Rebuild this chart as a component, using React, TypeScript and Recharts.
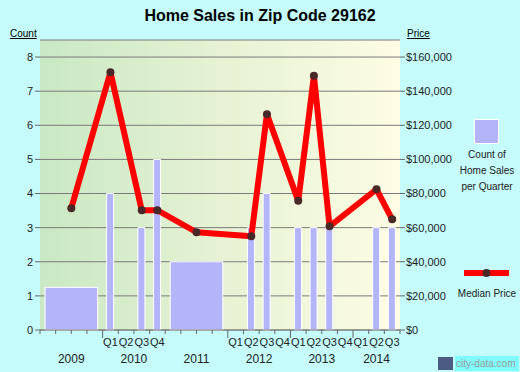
import { ComposedChart, Bar, Line, XAxis, YAxis, CartesianGrid, ReferenceArea } from "recharts";

// years on the x axis, and whether each one is broken into quarters
const yearLabels = ["2009", "2010", "2011", "2012", "2013", "2014"];
const yearQuarters = [4, 4, 4, 4, 4, 3];
const yearSplit = [false, true, false, true, true, true];

// one entry per bar / line point (a whole year or a single quarter)
const periodSpans = [4, 1, 1, 1, 1, 4, 1, 1, 1, 1, 1, 1, 1, 1, 1, 1, 1];
const salesCounts = [1.25, 4, null, 3, 5, 2, null, 3, 4, null, 3, 3, 3, null, null, 3, 3];
const medianPrices = [71400, 151100, null, 70200, 70200, 57300, null, 55000, 126500, null, 75700, 149000, 60800, null, null, 82500, 64900];

const countTicks = [0, 1, 2, 3, 4, 5, 6, 7, 8];
const priceTicks = [0, 20000, 40000, 60000, 80000, 100000, 120000, 140000, 160000];

const totalQuarters = yearQuarters.reduce((a, b) => a + b, 0);

let cursor = 0;
const data = periodSpans.map((span, i) => {
  const start = cursor;
  cursor += span;
  return {
    x: start + span / 2,
    start,
    end: start + span,
    span,
    count: salesCounts[i],
    quarterCount: span === 1 ? salesCounts[i] : null,
    price: medianPrices[i],
  };
});
const wholeYears = data.filter((d) => d.span > 1 && d.count != null);

const yearStarts: number[] = [];
yearQuarters.reduce((acc, q) => { yearStarts.push(acc); return acc + q; }, 0);

const axisTicks: number[] = [];
for (let v = 0; v <= totalQuarters; v += 0.5) axisTicks.push(v);

const FONT = 'Arial, "Liberation Sans", sans-serif';
const BAR = "#b4b4fa";

function QuarterTick(props: any) {
  const { x, y, payload } = props;
  const v = payload.value;
  const items = [];
  if (Number.isInteger(v)) {
    const yi = yearStarts.indexOf(v);
    const long = yi >= 0 && yearSplit[yi];
    items.push(<line key="t" x1={x} y1={y} x2={x} y2={y + (long ? 8 : 4)} stroke="#666" />);
  } else {
    const q = Math.floor(v);
    let yi = 0;
    while (yi + 1 < yearStarts.length && yearStarts[yi + 1] <= q) yi++;
    if (yearSplit[yi]) {
      items.push(
        <text key="q" x={x} y={y + 16} textAnchor="middle" fontSize={11} fill="#222">
          {"Q" + (q - yearStarts[yi] + 1)}
        </text>
      );
    }
  }
  const ci = yearStarts.findIndex((s, i) => s + yearQuarters[i] / 2 === v);
  if (ci >= 0) {
    items.push(
      <text key="y" x={x} y={y + 33} textAnchor="middle" fontSize={12} fill="#222">
        {yearLabels[ci]}
      </text>
    );
  }
  return <g>{items}</g>;
}

// year-long bar: the area between the year's edges, with a small gap on each side
function YearBar(props: any) {
  const { x, y, width, height } = props;
  return <rect x={x + 5} y={y} width={width - 10} height={height} fill={BAR} stroke="#ffffff" />;
}

export default function App() {
  return (
    <div style={{ position: "absolute", left: 0, top: 0, width: 520, height: 372, background: "#c5fbfb", fontFamily: FONT }}>
      <ComposedChart width={520} height={372} data={data} margin={{ top: 40, right: 65, bottom: 0, left: 0 }} style={{ fontFamily: FONT }}>
        <defs>
          <linearGradient id="plotBg" x1="0" y1="0" x2="1" y2="0">
            <stop offset="0%" stopColor="#c9e8c3" />
            <stop offset="50%" stopColor="#e6f2d3" />
            <stop offset="100%" stopColor="#fdfde3" />
          </linearGradient>
        </defs>
        <CartesianGrid xAxisId="q" yAxisId="count" vertical={false} stroke="#7a7a7a" fill="url(#plotBg)" />
        <XAxis
          xAxisId="q"
          type="number"
          dataKey="x"
          domain={[0, totalQuarters]}
          ticks={axisTicks}
          interval={0}
          height={42}
          tickLine={false}
          tickSize={0}
          tickMargin={0}
          stroke="#7a7a7a"
          tick={<QuarterTick />}
        />
        <YAxis
          yAxisId="count"
          width={40}
          domain={[0, 8.5]}
          ticks={countTicks}
          axisLine={false}
          tickSize={5}
          tickMargin={2}
          tickLine={{ stroke: "#666" }}
          tick={{ fontSize: 11, fill: "#222" }}
        />
        <YAxis
          yAxisId="price"
          orientation="right"
          width={55}
          domain={[0, 170000]}
          ticks={priceTicks}
          axisLine={false}
          tickSize={5}
          tickMargin={1}
          tickLine={{ stroke: "#666" }}
          tick={{ fontSize: 11, fill: "#222", textAnchor: "start" }}
          tickFormatter={(v: number) => "$" + v.toLocaleString("en-US")}
        />
        {wholeYears.map((d) => (
          <ReferenceArea
            key={d.start}
            xAxisId="q"
            yAxisId="count"
            x1={d.start}
            x2={d.end}
            y1={0}
            y2={d.count as number}
            shape={YearBar}
          />
        ))}
        <Bar xAxisId="q" yAxisId="count" dataKey="quarterCount" barSize={7} fill={BAR} stroke="#ffffff" isAnimationActive={false} />
        <Line
          xAxisId="q"
          yAxisId="price"
          type="linear"
          dataKey="price"
          stroke="#ff0000"
          strokeWidth={6}
          strokeLinejoin="round"
          connectNulls
          dot={{ r: 4, fill: "#4a2828", stroke: "none", strokeWidth: 0 }}
          isAnimationActive={false}
        />
      </ComposedChart>
      <svg width={520} height={372} style={{ position: "absolute", left: 0, top: 0, pointerEvents: "none" }}>
        <text x={260} y={21} textAnchor="middle" fontSize={16} fontWeight="bold" fill="#000">
          Home Sales in Zip Code 29162
        </text>
        <text x={10} y={37} fontSize={10} fill="#000" textDecoration="underline">Count</text>
        <text x={407} y={37} fontSize={10} fill="#000" textDecoration="underline">Price</text>
        <rect x={474.5} y={119.5} width={24} height={24} fill={BAR} stroke="#ffffff" />
        <text x={487} y={158} textAnchor="middle" fontSize={10} fill="#222">Count of</text>
        <text x={487} y={174} textAnchor="middle" fontSize={10} fill="#222">Home Sales</text>
        <text x={487} y={190} textAnchor="middle" fontSize={10} fill="#222">per Quarter</text>
        <line x1={464} y1={273} x2={509} y2={273} stroke="#ff0000" strokeWidth={6} />
        <circle cx={486.5} cy={273} r={4} fill="#4a2828" />
        <text x={487} y={297} textAnchor="middle" fontSize={10} fill="#222">Median Price</text>
        <rect x={438} y={357} width={15} height={13} fill="#4a5a80" />
        <rect x={455} y={356} width={64} height={15} fill="#00ffff" opacity={0.35} />
        <text x={456} y={367} fontSize={10} fill="#9a9a9a">city-data.com</text>
      </svg>
    </div>
  );
}
